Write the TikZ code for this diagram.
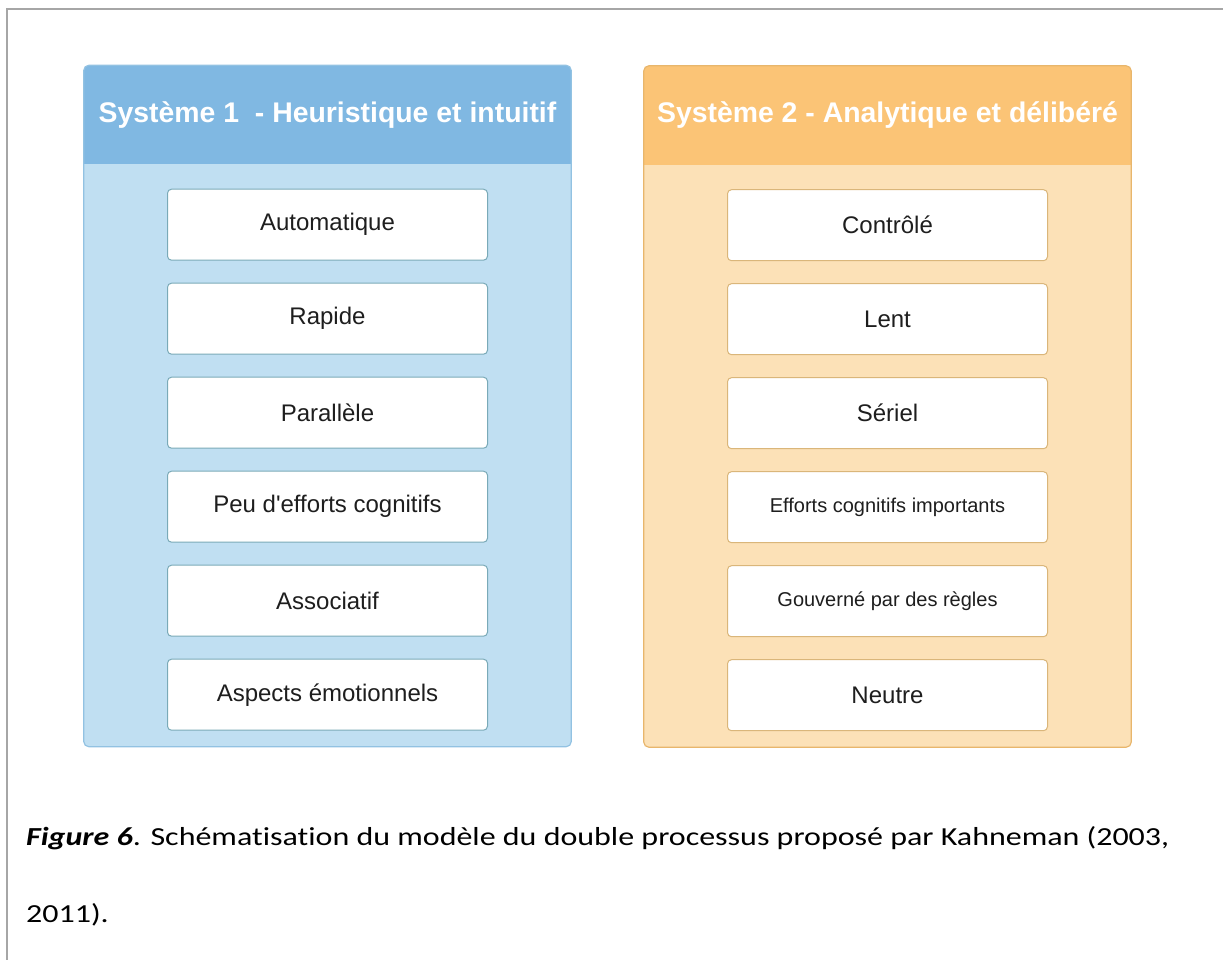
\documentclass[tikz,border=0pt]{standalone}
\usepackage{fontspec}
\setmainfont{Liberation Sans}
\newfontfamily\capfont[Ligatures=NoCommon]{Carlito}
\usepackage{graphicx}
\usetikzlibrary{positioning, calc}
\definecolor{headblue}{RGB}{128,184,226}
\definecolor{bodyblue}{RGB}{192,223,242}
\definecolor{lineblue}{RGB}{146,194,226}
\definecolor{itemblue}{RGB}{122,170,184}
\definecolor{headorange}{RGB}{251,196,118}
\definecolor{bodyorange}{RGB}{252,225,183}
\definecolor{lineorange}{RGB}{232,182,108}
\definecolor{itemorange}{RGB}{218,182,122}
\definecolor{framegray}{RGB}{166,166,166}
\definecolor{textgray}{RGB}{30,30,30}

\begin{document}
\begin{tikzpicture}[x=1pt, y=-1pt,
                panel/.style={rectangle, rounded corners=5pt, minimum width=487pt,
                  minimum height=681pt, inner sep=0pt},
                header/.style={rectangle, minimum width=487pt, minimum height=99pt,
                  inner sep=0pt, text=white, font=\fontsize{28.4}{30}\selectfont\bfseries},
                item/.style={rectangle, draw=#1, fill=white, rounded corners=4pt,
                  minimum width=320pt, minimum height=71pt, inner sep=0pt, line width=1pt,
                  text=textgray, font=\fontsize{24}{26}\selectfont},
                item/.default=itemblue,
                smalltext/.style={font=\fontsize{20}{22}\selectfont},
                caption/.style={anchor=base west, inner sep=0pt,
                  font=\capfont\fontsize{26}{28}\selectfont},
                node distance=22pt
                ]
  \useasboundingbox (0,0) rectangle (1223,960);
  % frame of the page
  \draw[framegray, line width=2pt] (7,960) -- (7,9) -- (1223,9);

  % systeme 1
  \node [panel, fill=bodyblue] (s1) at (327.5,406) {};
  \begin{scope}
    \clip [rounded corners=5pt] (s1.north west) rectangle (s1.south east);
    \fill [headblue] (s1.north west) rectangle ($(s1.north east)+(0,99)$);
  \end{scope}
  \draw [lineblue, line width=1.2pt, rounded corners=5pt] (s1.north west) rectangle (s1.south east);
  \node [header, below=0pt of s1.north] (h1) {Système 1~ - Heuristique et intuitif};
  \node [item, below=24pt of h1] (a1) {Automatique};
  \node [item, below=of a1] (a2) {Rapide};
  \node [item, below=of a2] (a3) {Parallèle};
  \node [item, below=of a3] (a4) {Peu d\textquotesingle efforts cognitifs};
  \node [item, below=of a4] (a5) {Associatif};
  \node [item, below=of a5] (a6) {Aspects émotionnels};

  % systeme 2
  \node [panel, fill=bodyorange] (s2) at (887.5,406.5) {};
  \begin{scope}
    \clip [rounded corners=5pt] (s2.north west) rectangle (s2.south east);
    \fill [headorange] (s2.north west) rectangle ($(s2.north east)+(0,99)$);
  \end{scope}
  \draw [lineorange, line width=1.2pt, rounded corners=5pt] (s2.north west) rectangle (s2.south east);
  \node [header, below=0pt of s2.north] (h2) {Système 2 - Analytique et délibéré};
  \node [item=itemorange, below=24pt of h2] (b1) {Contrôlé};
  \node [item=itemorange, below=of b1] (b2) {Lent};
  \node [item=itemorange, below=of b2] (b3) {Sériel};
  \node [item=itemorange, smalltext, below=of b3] (b4) {Efforts cognitifs importants};
  \node [item=itemorange, smalltext, below=of b4] (b5) {Gouverné par des règles};
  \node [item=itemorange, below=of b5] (b6) {Neutre};

  % legende
  \node [caption] (cap1) at (26,845) {\scalebox{1.23}[1]{\textbf{\textit{Figure 6}}. Schématisation du modèle du double processus proposé par Kahneman (2003,}};
  \node [caption] (cap2) at (26,922) {\scalebox{1.23}[1]{2011).}};
\end{tikzpicture}
\end{document}
